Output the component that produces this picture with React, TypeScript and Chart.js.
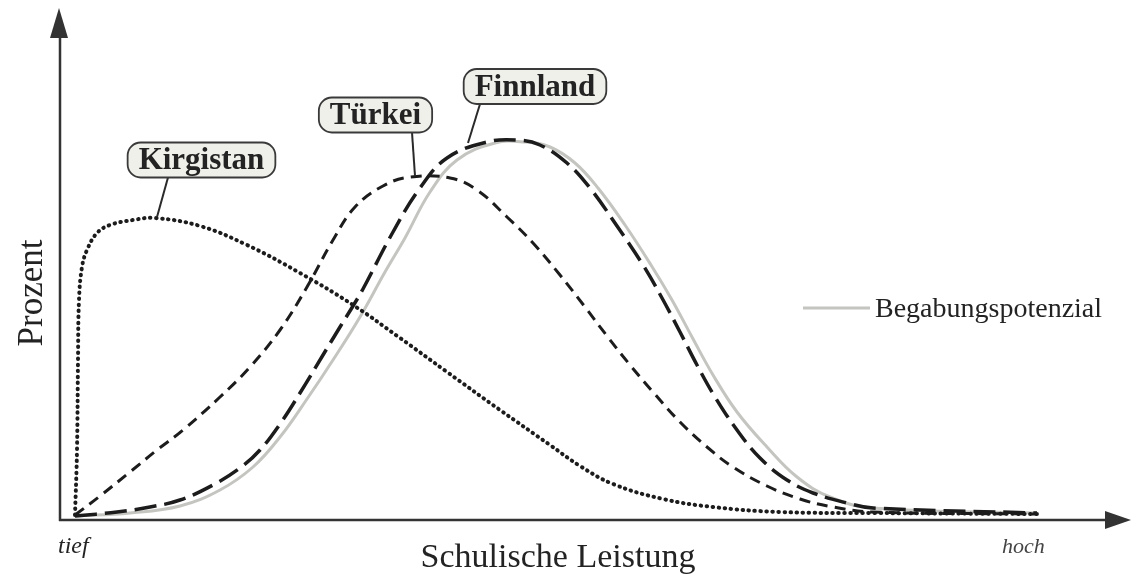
import { useEffect, useRef } from "react";
import { Chart, registerables } from "chart.js";

Chart.register(...registerables);

// Schulische Leistung (x) vs. Prozent (y)
const kirgistanX = [1.5, 1.7, 1.8, 1.9, 2.2, 2.7, 3.7, 5.0, 7.3, 9.5, 14.0, 18.7, 24.0, 29.3, 34.0, 38.7, 44.0, 49.0, 52.0, 55.3, 60.3, 65.3, 72.0, 81.3, 97.7];
const kirgistanY = [0.5, 7.0, 16.0, 22.0, 25.3, 27.0, 28.7, 29.5, 30.0, 30.2, 29.4, 27.5, 24.7, 21.5, 18.2, 14.8, 11.0, 7.5, 5.4, 3.6, 2.1, 1.3, 0.8, 0.7, 0.6];

const tuerkeiX = [1.5, 4.0, 7.0, 9.7, 12.3, 16.0, 19.0, 22.0, 24.7, 27.3, 29.5, 32.3, 35.0, 39.0, 41.7, 44.7, 47.3, 50.0, 52.5, 54.7, 57.0, 59.3, 62.0, 64.7, 67.3, 70.7, 74.0, 77.3, 81.3, 97.7];
const tuerkeiY = [0.5, 2.4, 4.8, 7.0, 9.0, 12.3, 15.3, 19.0, 23.3, 28.0, 31.3, 33.4, 34.3, 34.2, 33.0, 30.3, 27.7, 24.5, 21.3, 18.4, 15.5, 12.8, 9.8, 7.3, 5.3, 3.4, 2.1, 1.3, 0.8, 0.6];

const finnlandX = [1.5, 5.7, 9.0, 12.0, 15.3, 18.0, 20.0, 22.0, 24.0, 26.3, 28.0, 29.3, 30.3, 33.3, 36.0, 38.7, 42.7, 45.7, 48.0, 50.7, 53.0, 55.7, 58.3, 60.2, 62.0, 63.7, 65.5, 67.7, 70.0, 72.7, 75.3, 78.7, 81.3, 97.7];
const finnlandY = [0.4, 0.8, 1.3, 2.0, 3.5, 5.2, 7.0, 9.6, 12.7, 16.5, 19.3, 21.4, 23.1, 28.8, 33.2, 36.2, 37.8, 38.0, 37.5, 35.7, 33.2, 29.4, 25.5, 22.2, 18.8, 15.5, 12.3, 9.0, 6.2, 4.0, 2.7, 1.7, 1.2, 0.7];

const potenzialX = [1.5, 7.0, 12.0, 16.0, 19.3, 22.0, 24.7, 27.3, 30.0, 32.5, 34.5, 37.0, 39.7, 43.5, 46.5, 49.0, 51.5, 53.8, 56.5, 59.1, 61.2, 63.2, 65.3, 67.7, 70.7, 73.7, 77.0, 81.3, 97.7];
const potenzialY = [0.4, 0.7, 1.4, 3.0, 5.3, 8.3, 12.1, 16.0, 20.3, 24.8, 28.2, 32.8, 36.0, 37.7, 37.8, 37.3, 35.7, 33.2, 29.5, 25.5, 22.0, 18.3, 14.5, 10.8, 7.3, 4.3, 2.3, 1.2, 0.7];

// callout labels (in data units)
const labelTexts = ["Kirgistan", "Türkei", "Finnland"];
const labelBoxX = [14.15, 31.55, 47.5];
const labelBoxY = [36.0, 40.5, 43.35];
const pointerStartX = [10.8, 35.2, 42.0];
const pointerEndX = [9.7, 35.5, 40.8];
const pointerEndY = [30.3, 34.4, 37.7];

const legendText = "Begabungspotenzial";
const xTitle = "Schulische Leistung";
const yTitle = "Prozent";
const xLowLabel = "tief";
const xHighLabel = "hoch";

const FONT = "'Liberation Serif', 'DejaVu Serif', serif";
const INK = "#232323";

const toPoints = (xs: number[], ys: number[]) => xs.map((x, i) => ({ x, y: ys[i] }));

const decorPlugin = {
  id: "decor",
  afterDatasetsDraw(chart: any) {
    const ctx: CanvasRenderingContext2D = chart.ctx;
    const area = chart.chartArea;
    const xs = chart.scales.x;
    const ys = chart.scales.y;
    ctx.save();

    // axes with arrows
    ctx.strokeStyle = "#333";
    ctx.fillStyle = "#333";
    ctx.lineWidth = 2.5;
    ctx.beginPath();
    ctx.moveTo(area.left, area.bottom + 1);
    ctx.lineTo(area.left, 36);
    ctx.moveTo(area.left - 1, area.bottom);
    ctx.lineTo(1108, area.bottom);
    ctx.stroke();
    ctx.beginPath();
    ctx.moveTo(area.left - 1, 8);
    ctx.lineTo(area.left - 10, 38);
    ctx.lineTo(area.left + 8, 38);
    ctx.closePath();
    ctx.fill();
    ctx.beginPath();
    ctx.moveTo(1131, area.bottom);
    ctx.lineTo(1105, area.bottom - 9);
    ctx.lineTo(1105, area.bottom + 9);
    ctx.closePath();
    ctx.fill();

    // callouts
    ctx.font = `bold 31px ${FONT}`;
    for (let i = 0; i < labelTexts.length; i++) {
      const cx = xs.getPixelForValue(labelBoxX[i]);
      const cy = ys.getPixelForValue(labelBoxY[i]);
      const tw = ctx.measureText(labelTexts[i]).width;
      const w = tw + 22;
      const h = 35;
      ctx.strokeStyle = "#2a2a2a";
      ctx.lineWidth = 2;
      ctx.beginPath();
      ctx.moveTo(xs.getPixelForValue(pointerStartX[i]), cy + h / 2);
      ctx.lineTo(xs.getPixelForValue(pointerEndX[i]), ys.getPixelForValue(pointerEndY[i]));
      ctx.stroke();
      ctx.beginPath();
      (ctx as any).roundRect(cx - w / 2, cy - h / 2, w, h, 13);
      ctx.fillStyle = "#eff0ea";
      ctx.fill();
      ctx.lineWidth = 1.8;
      ctx.strokeStyle = "#3a3a3a";
      ctx.stroke();
      ctx.fillStyle = INK;
      ctx.textAlign = "center";
      ctx.textBaseline = "middle";
      ctx.fillText(labelTexts[i], cx, cy + 1);
    }

    // axis titles
    ctx.fillStyle = INK;
    ctx.textBaseline = "alphabetic";
    ctx.textAlign = "center";
    ctx.font = `34px ${FONT}`;
    ctx.fillText(xTitle, 558, 567);
    ctx.save();
    ctx.translate(42, 293);
    ctx.rotate(-Math.PI / 2);
    ctx.font = `35px ${FONT}`;
    ctx.fillText(yTitle, 0, 0);
    ctx.restore();

    ctx.textAlign = "left";
    ctx.font = `italic 24px ${FONT}`;
    ctx.fillText(xLowLabel, 58, 553);
    ctx.font = `italic 22px ${FONT}`;
    ctx.fillStyle = "#444";
    ctx.fillText(xHighLabel, 1002, 553);

    // legend
    ctx.strokeStyle = "#c4c4c0";
    ctx.lineWidth = 3;
    ctx.beginPath();
    ctx.moveTo(803, 308);
    ctx.lineTo(870, 308);
    ctx.stroke();
    ctx.fillStyle = INK;
    ctx.font = `28px ${FONT}`;
    ctx.fillText(legendText, 875, 317);

    ctx.restore();
  },
};

export default function App() {
  const canvasRef = useRef<HTMLCanvasElement | null>(null);

  useEffect(() => {
    if (!canvasRef.current) return;
    const chart = new Chart(canvasRef.current, {
      type: "line",
      data: {
        datasets: [
          {
            label: "Kirgistan",
            data: toPoints(kirgistanX, kirgistanY),
            borderColor: "#1c1c1c",
            borderWidth: 4,
            borderDash: [0.5, 5.5],
            borderCapStyle: "round",
            tension: 0.4,
            order: 1,
          },
          {
            label: "Türkei",
            data: toPoints(tuerkeiX, tuerkeiY),
            borderColor: "#1c1c1c",
            borderWidth: 3,
            borderDash: [11, 7],
            tension: 0.4,
            order: 2,
          },
          {
            label: "Finnland",
            data: toPoints(finnlandX, finnlandY),
            borderColor: "#1c1c1c",
            borderWidth: 3.5,
            borderDash: [22, 8],
            tension: 0.4,
            order: 3,
          },
          {
            label: "Begabungspotenzial",
            data: toPoints(potenzialX, potenzialY),
            borderColor: "#c4c4c0",
            borderWidth: 3,
            tension: 0.4,
            order: 10,
          },
        ],
      } as any,
      options: {
        animation: false,
        responsive: false,
        devicePixelRatio: 1,
        layout: { padding: { left: 60, right: 22, top: 40, bottom: 55 } },
        elements: { point: { radius: 0, hoverRadius: 0 } },
        scales: {
          x: { type: "linear", min: 0, max: 105, display: false },
          y: { type: "linear", min: 0, max: 48, display: false },
        },
        plugins: {
          legend: { display: false },
          tooltip: { enabled: false },
        },
        events: [],
      } as any,
      plugins: [decorPlugin],
    });
    return () => chart.destroy();
  }, []);

  return (
    <div style={{ position: "fixed", left: 0, top: 0, width: 1132, height: 575, background: "#fff" }}>
      <canvas ref={canvasRef} width={1132} height={575} style={{ display: "block" }} />
    </div>
  );
}
